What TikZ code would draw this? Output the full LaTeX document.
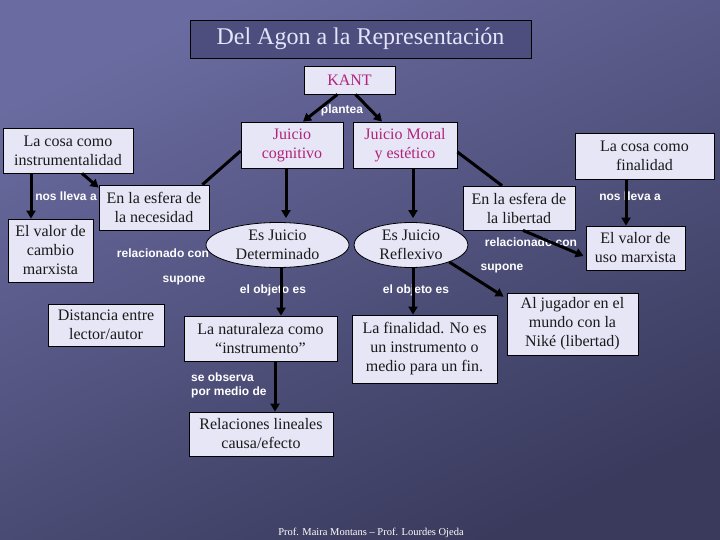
\documentclass[tikz,border=0pt]{standalone}
\usepackage{fontspec}
\setmainfont{Liberation Serif}
\newfontfamily\labelfont{Liberation Sans}
\usepackage{tikz}
\usetikzlibrary{arrows.meta,positioning,shapes.geometric}
\definecolor{bgtop}{HTML}{6A6BA0}
\definecolor{bgbottom}{HTML}{393A5C}
\definecolor{boxfill}{HTML}{E6E6F7}
\definecolor{titlefill}{HTML}{4D4E7E}
\definecolor{titletext}{HTML}{E4E4FA}
\definecolor{kantink}{HTML}{B2237A}
\definecolor{inkbox}{HTML}{1A1A1A}

\begin{document}
\begin{tikzpicture}[x=1pt, y=-1pt,
  box/.style={draw=black, line width=0.8pt, fill=boxfill, inner sep=0pt, align=center, font=\fontsize{16}{19}\selectfont, text=inkbox},
  oval/.style={box, ellipse},
  lbl/.style={font=\labelfont\bfseries\fontsize{12}{14}\selectfont, text=white, inner sep=0pt},
  arr/.style={-{Triangle[length=8pt,width=9pt]}, line width=3pt, color=black},
  link/.style={line width=3pt, color=black}
]
  \useasboundingbox (0,0) rectangle (720,540);
  \shade[top color=bgtop, bottom color=bgbottom, shading angle=25] (0,0) rectangle (720,540);

  % link labels
  \node[lbl] (lplantea) at (342,110) {plantea};
  \node[lbl] (lllevaizq) at (66,196) {nos lleva a};
  \node[lbl] (lrelizq) at (163,253) {relacionado con};
  \node[lbl] (lsuponeizq) at (184,281) {supone};
  \node[lbl] (lobjizq) at (273,290) {el objeto es};
  \node[lbl] (lobjder) at (416,290) {el objeto es};
  \node[lbl, anchor=west, align=left] (lobserva) at (191,385) {se observa\\por medio de};
  \node[lbl] (lrelder) at (531,242) {relacionado con};
  \node[lbl] (lsuponeder) at (502,269) {supone};
  \node[lbl] (lllevader) at (630,196) {nos lleva a};

  % concepts
  \node[box, fill=titlefill, text=titletext, minimum width=341pt, minimum height=38pt, font=\fontsize{24}{26}\selectfont] (titulo) at (360.5,39) {Del Agon a la Representación};
  \node[box, text=kantink, minimum width=91pt, minimum height=28pt] (kant) at (349.5,80) {KANT};
  \node[box, text=kantink, minimum width=102pt, minimum height=46pt] (cognitivo) at (292,145) {Juicio\\cognitivo};
  \node[box, text=kantink, minimum width=104pt, minimum height=46pt] (moral) at (405,145) {Juicio Moral\\y estético};
  \node[box, minimum width=130pt, minimum height=45pt] (instr) at (68,150.5) {La cosa como\\instrumentalidad};
  \node[box, minimum width=139pt, minimum height=46pt] (final) at (644.5,156) {La cosa como\\finalidad};
  \node[box, minimum width=110pt, minimum height=45pt] (necesidad) at (154,207.5) {En la esfera de\\la necesidad};
  \node[box, minimum width=85pt, minimum height=63pt] (cambio) at (50.5,250.5) {El valor de\\cambio\\marxista};
  \node[oval, minimum width=143pt, minimum height=45pt] (determinado) at (277.5,245) {Es Juicio\\Determinado};
  \node[oval, minimum width=114pt, minimum height=45pt] (reflexivo) at (411,245) {Es Juicio\\Reflexivo};
  \node[box, minimum width=112pt, minimum height=44pt] (libertad) at (519,208) {En la esfera de\\la libertad};
  \node[box, minimum width=99pt, minimum height=44pt] (uso) at (635.5,248) {El valor de\\uso marxista};
  \node[box, minimum width=116pt, minimum height=42pt] (distancia) at (106,325) {Distancia entre\\lector/autor};
  \node[box, minimum width=153pt, minimum height=45pt] (naturaleza) at (260.5,338.5) {La naturaleza como\\“instrumento”};
  \node[box, minimum width=145pt, minimum height=68pt] (finalidad) at (424.5,349) {La finalidad. No es\\un instrumento o\\medio para un fin.};
  \node[box, minimum width=131pt, minimum height=62pt] (jugador) at (572.5,324) {Al jugador en el\\mundo con la\\Niké (libertad)};
  \node[box, minimum width=144pt, minimum height=44pt] (relaciones) at (261,434) {Relaciones lineales\\causa/efecto};

  \node[font=\fontsize{10.5}{12}\selectfont, text=white, inner sep=0pt] (autoras) at (371,533) {Prof. Maira Montans – Prof. Lourdes Ojeda};

  % connectors
  \draw[arr] ([xshift=-12pt]kant.south) -- ([xshift=11pt]cognitivo.north);
  \draw[arr] ([xshift=6pt]kant.south) -- ([xshift=-23pt]moral.north);
  \draw[arr] ([xshift=14pt]instr.south) -- ([yshift=-3pt]necesidad.north west);
  \draw[arr] ([xshift=-37pt]instr.south) -- ([xshift=-19.5pt]cambio.north);
  \draw[link] ([yshift=-6pt]cognitivo.west) -- ([xshift=-7pt]necesidad.north east);
  \draw[arr] ([xshift=-6pt]cognitivo.south) -- ([xshift=8.5pt,yshift=4pt]determinado.north);
  \draw[arr] ([xshift=8pt]moral.south) -- ([xshift=2pt,yshift=4pt]reflexivo.north);
  \draw[link] ([yshift=-7pt]moral.east) -- ([xshift=-17pt]libertad.north);
  \draw[arr] ([xshift=-18.5pt]final.south) -- ([xshift=-9.5pt]uso.north);
  \draw[arr] ([xshift=4pt]libertad.south) -- ([xshift=-2pt,yshift=-8pt]uso.west);
  \draw[arr] ([xshift=3.5pt]determinado.south) -- ([xshift=20.5pt]naturaleza.north);
  \draw[arr] ([xshift=2pt]reflexivo.south) -- ([xshift=-11.5pt]finalidad.north);
  \draw[arr] (reflexivo.-24) -- ([xshift=-3pt,yshift=-4pt]jugador.north west);
  \draw[arr] ([xshift=14.5pt]naturaleza.south) -- ([xshift=14pt]relaciones.north);
\end{tikzpicture}
\end{document}
